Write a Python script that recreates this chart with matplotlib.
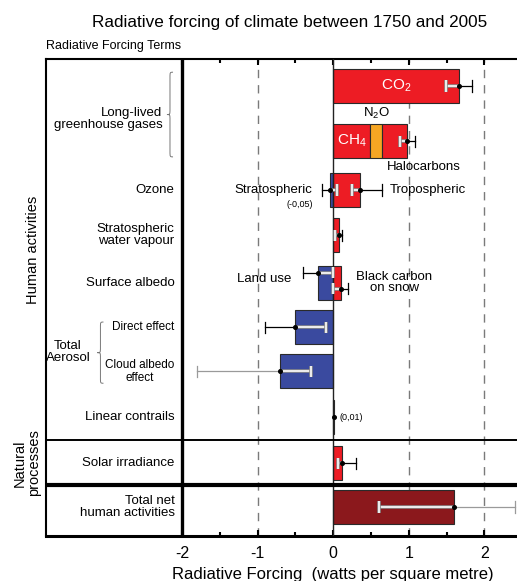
import matplotlib
matplotlib.use("Agg")
import matplotlib.pyplot as plt
import matplotlib.patheffects as pe
from matplotlib.path import Path
from matplotlib.patches import PathPatch
from matplotlib.transforms import blended_transform_factory

plt.rcParams['font.family'] = ['Liberation Sans', 'DejaVu Sans']
plt.rcParams['axes.unicode_minus'] = False

# forcing components (W/m2), one entry per coloured bar segment
bar_names = ['CO2', 'CH4', 'N2O', 'Halocarbons', 'Stratospheric ozone', 'Tropospheric ozone',
             'Stratospheric water vapour', 'Land use', 'Black carbon on snow',
             'Direct effect', 'Cloud albedo effect', 'Linear contrails',
             'Solar irradiance', 'Total net human activities']
bar_values = [1.66, 0.48, 0.16, 0.34, -0.05, 0.35, 0.07, -0.20, 0.10, -0.50, -0.70, 0.01, 0.12, 1.60]
bar_rows = [0, 1, 1, 1, 2, 2, 3, 4, 4, 5, 6, 7, 8, 9]
bar_colors = ['#ed1c24', '#ed1c24', '#f6a623', '#ed1c24', '#3a4a9f', '#ed1c24', '#ed1c24',
              '#3a4a9f', '#ed1c24', '#3a4a9f', '#3a4a9f', '#ed1c24', '#ed1c24', '#8b181c']

# uncertainty ranges: best estimate, low, high
err_rows = [0, 1, 2, 2, 3, 4, 4, 5, 6, 8, 9]
err_best = [1.66, 0.98, -0.05, 0.35, 0.07, -0.20, 0.10, -0.50, -0.70, 0.12, 1.60]
err_low = [1.49, 0.88, -0.15, 0.25, 0.02, -0.40, 0.00, -0.90, -1.80, 0.06, 0.60]
err_high = [1.83, 1.08, 0.05, 0.65, 0.12, 0.00, 0.20, -0.10, -0.30, 0.30, 2.40]
err_shift = [0, 0, 0, 0, 0, -0.22, 0.13, 0, 0, 0, 0]
err_grey = [False, False, False, False, False, False, False, False, True, False, True]
contrail_value = 0.01

row_labels = ['Ozone', 'Stratospheric\nwater vapour', 'Surface albedo',
              'Linear contrails', 'Solar irradiance', 'Total net\nhuman activities']
row_label_rows = [2, 3, 4, 7, 8, 9]

# layout: vertical position of each row
row_pos = [0.0, 1.2, 2.26, 3.24, 4.28, 5.24, 6.2, 7.2, 8.2, 9.15]
bar_h = 0.74
y_top, y_bot = -0.587, 9.78

fig = plt.figure(figsize=(5.17, 5.81), dpi=100)
ax = fig.add_axes([46 / 517, 1 - 536 / 581, 1 - 46 / 517, 477 / 581])
ax.set_xlim(-3.80, 2.43)
ax.set_ylim(y_bot, y_top)

# reference lines
for xv in [-1, 1, 2]:
    ax.axvline(xv, color='#7a7a7a', lw=1.0, ls=(0, (6, 5)), zorder=0)
ax.axvline(0, color='#222222', lw=1.0, zorder=3)
ax.axvline(-2, color='black', lw=2.4, zorder=4)
ax.axhline(7.70, color='black', lw=1.4, zorder=4)
ax.axhline(8.67, color='black', lw=3.0, zorder=4)

# bars, stacked from zero within each row
pos_end = {}
neg_end = {}
for val, r, c in zip(bar_values, bar_rows, bar_colors):
    if val >= 0:
        left = pos_end.get(r, 0.0)
        pos_end[r] = left + val
    else:
        left = neg_end.get(r, 0.0)
        neg_end[r] = left + val
    ax.barh(row_pos[r], val, left=left, height=bar_h, color=c,
            edgecolor='#2a2a2a', lw=0.8, zorder=2)

# error bars: white inside the bar, dark outside
white_fx = [pe.Stroke(linewidth=2.6, foreground='#8a8a8a'), pe.Normal()]
cap = 0.12
for r, b, lo, hi, sh, grey in zip(err_rows, err_best, err_low, err_high, err_shift, err_grey):
    y = row_pos[r] + sh
    in_lo = max(lo, neg_end.get(r, 0.0))
    in_hi = min(hi, pos_end.get(r, 0.0))
    out_col = '#9a9a9a' if grey else 'black'
    if lo < in_lo:
        ax.plot([lo, in_lo], [y, y], color=out_col, lw=0.9, zorder=5)
        ax.plot([lo, lo], [y - cap, y + cap], color=out_col, lw=0.9, zorder=5)
    if hi > in_hi:
        ax.plot([in_hi, hi], [y, y], color=out_col, lw=0.9, zorder=5)
        ax.plot([hi, hi], [y - cap, y + cap], color=out_col, lw=0.9, zorder=5)
    if in_hi > in_lo:
        ax.plot([in_lo, in_hi], [y, y], color='white', lw=1.2, zorder=6,
                path_effects=white_fx, solid_capstyle='butt')
        for xe in [lo, hi]:
            if in_lo <= xe <= in_hi:
                ax.plot([xe, xe], [y - cap, y + cap], color='white', lw=1.2, zorder=6,
                        path_effects=white_fx, solid_capstyle='butt')
    ax.plot(b, y, 'o', color='black', ms=2.6, zorder=7)
ax.plot(contrail_value, row_pos[7], 'o', color='black', ms=2.6, zorder=7)

# in-plot annotations
ax.text(0.83, row_pos[0], r'$\mathregular{CO_2}$', color='white', fontsize=11,
        ha='center', va='center', zorder=8)
ax.text(0.24, row_pos[1], r'$\mathregular{CH_4}$', color='white', fontsize=11,
        ha='center', va='center', zorder=8)
ax.text(0.57, 0.6, r'$\mathregular{N_2O}$', fontsize=9.5, ha='center', va='center')
ax.text(1.2, 1.77, 'Halocarbons', fontsize=9.5, ha='center', va='center')
ax.text(-0.28, row_pos[2], 'Stratospheric', fontsize=9.5, ha='right', va='center')
ax.text(-0.45, 2.58, '(-0,05)', fontsize=6.5, ha='center', va='center')
ax.text(0.75, row_pos[2], 'Tropospheric', fontsize=9.5, ha='left', va='center')
ax.text(-0.91, 4.2, 'Land use', fontsize=9.5, ha='center', va='center')
ax.text(0.81, 4.27, 'Black carbon\non snow', fontsize=9.5, ha='center', va='center',
        linespacing=0.95)
ax.text(0.08, row_pos[7], '(0,01)', fontsize=6.5, ha='left', va='center')

# row labels on the left
for lab, r in zip(row_labels, row_label_rows):
    ax.text(-2.1, row_pos[r], lab, fontsize=9.5, ha='right', va='center', linespacing=1.05)
ax.text(-2.26, 0.72, 'Long-lived\ngreenhouse gases', fontsize=9.5, ha='right', va='center',
        linespacing=1.05)
ax.text(-2.1, row_pos[5], 'Direct effect', fontsize=8.5, ha='right', va='center')
ax.text(-2.56, row_pos[6], 'Cloud albedo\neffect', fontsize=8.5, ha='center', va='center',
        linespacing=1.05)
ax.text(-3.51, 5.78, 'Total\nAerosol', fontsize=9.5, ha='center', va='center', linespacing=1.05)


def brace(x, y0, y1, d, r):
    ym = (y0 + y1) / 2
    verts = [(x + d, y0), (x, y0), (x, y0), (x, y0 + r), (x, ym - r),
             (x, ym), (x, ym), (x - d, ym),
             (x - d, ym), (x, ym), (x, ym), (x, ym + r), (x, y1 - r),
             (x, y1), (x, y1), (x + d, y1)]
    codes = [Path.MOVETO, Path.CURVE4, Path.CURVE4, Path.CURVE4, Path.LINETO,
             Path.CURVE4, Path.CURVE4, Path.CURVE4,
             Path.MOVETO, Path.CURVE4, Path.CURVE4, Path.CURVE4, Path.LINETO,
             Path.CURVE4, Path.CURVE4, Path.CURVE4]
    ax.add_patch(PathPatch(Path(verts, codes), fill=False, lw=0.7, ec='#777777'))


brace(-2.16, -0.30, 1.54, 0.04, 0.12)
brace(-3.08, 5.13, 6.46, 0.04, 0.12)

# axes styling
ax.set_yticks([])
ax.set_xticks([-2, -1, 0, 1, 2])
ax.set_xticks([-1.5, -0.5, 0.5, 1.5], minor=True)
ax.tick_params(axis='x', which='both', direction='in', top=True, width=1.5, labelsize=11.5, pad=7)
ax.tick_params(axis='x', which='major', length=4)
ax.tick_params(axis='x', which='minor', length=3)
ax.spines['right'].set_visible(False)
ax.spines['top'].set_linewidth(1.5)
ax.spines['left'].set_linewidth(1.5)
ax.spines['bottom'].set_linewidth(2.2)

tr = blended_transform_factory(ax.transData, ax.transAxes)
ax.text(0, -0.08, 'Radiative Forcing  (watts per square metre)', transform=tr,
        fontsize=12, ha='center', va='center')

fig.text(290 / 517, 1 - 22 / 581, 'Radiative forcing of climate between 1750 and 2005',
         fontsize=12.3, ha='center', va='center')
fig.text(46 / 517, 1 - 46 / 581, 'Radiative Forcing Terms', fontsize=9, ha='left', va='center')
fig.text(33 / 517, 1 - 250 / 581, 'Human activities', fontsize=10.5, rotation=90,
         ha='center', va='center')
fig.text(27 / 517, 1 - 463 / 581, 'Natural\nprocesses', fontsize=10.5, rotation=90,
         ha='center', va='center', linespacing=1.0)

fig.savefig('out.png', dpi=100)
